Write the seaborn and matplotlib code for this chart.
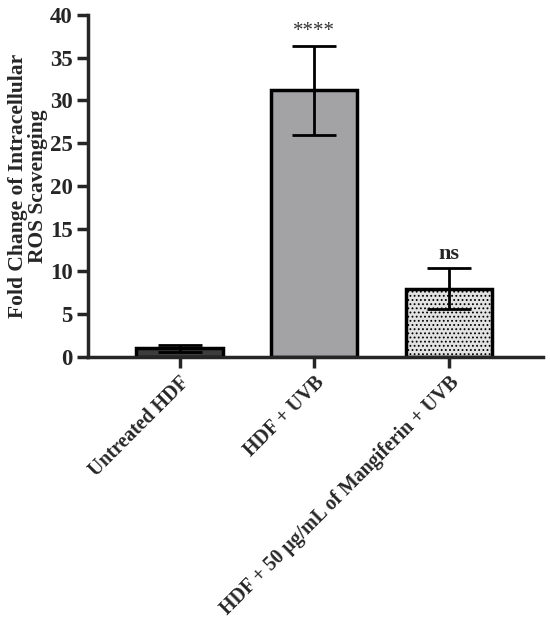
import numpy as np
import pandas as pd
import seaborn as sns
import matplotlib
matplotlib.use('Agg')
import matplotlib.pyplot as plt

groups = ['Untreated HDF', 'HDF + UVB', 'HDF + 50 \u03bcg/mL of Mangiferin + UVB']
means = [1.0, 31.2, 8.0]
errors = [0.45, 5.2, 2.4]
stars = ['', '****', 'ns']

df = pd.DataFrame({'Group': groups, 'Fold': means})

sns.set_theme(style='ticks')
plt.rcParams['font.family'] = ['Liberation Serif', 'DejaVu Serif']
plt.rcParams['font.weight'] = 'bold'
plt.rcParams['hatch.linewidth'] = 0.8
plt.rcParams['hatch.color'] = '#555555'

fig = plt.figure(figsize=(5.5, 6.24), dpi=100)
ax = fig.add_axes([0.16, 0.428, 0.827, 0.548])

sns.barplot(data=df, x='Group', y='Fold', hue='Group',
            palette=['#3c3c3c', '#a2a2a6', '#e2e2e2'], legend=False,
            width=0.64, edgecolor='black', linewidth=2.5, errorbar=None, ax=ax)
ax.patches[2].set_hatch('....')

ax.errorbar(x=np.arange(len(groups)), y=means, yerr=errors, fmt='none',
            ecolor='black', elinewidth=2, capsize=16, capthick=2, zorder=5)

for i, s in enumerate(stars):
    if s == '****':
        ax.text(i, means[i] + errors[i] + 0.6, s, ha='center', va='bottom',
                fontsize=15, fontweight='normal', color='#333333')
    elif s:
        ax.text(i, means[i] + errors[i] + 0.5, s, ha='center', va='bottom',
                fontsize=16, fontweight='bold')

ax.set_ylim(0, 40)
ax.set_yticks(range(0, 45, 5))
ax.set_xlim(-0.68, 2.7)
ax.set_xlabel('')
ax.set_ylabel('Fold Change of Intracellular\nROS Scavenging', fontsize=15.5,
              fontweight='bold', linespacing=1.0, labelpad=1)
sns.despine(ax=ax)
for sp in ['left', 'bottom']:
    ax.spines[sp].set_linewidth(2.5)
ax.tick_params(axis='both', width=2.5, length=8, direction='out')
ax.tick_params(axis='y', labelsize=16.5, pad=3)
ax.tick_params(axis='x', labelsize=14.3)
plt.setp(ax.get_xticklabels(), rotation=45, ha='right', rotation_mode='anchor',
         fontweight='bold')
plt.setp(ax.get_yticklabels(), fontweight='bold')

fig.savefig('out.png', dpi=100)
